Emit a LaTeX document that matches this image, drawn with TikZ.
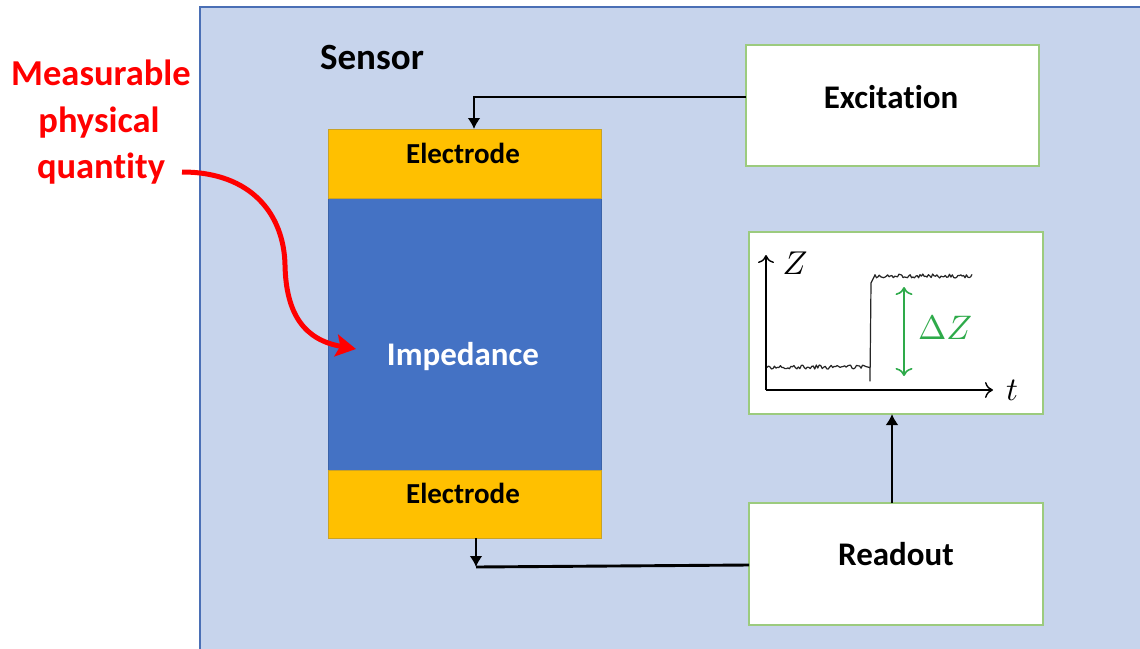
\documentclass[tikz,border=0pt]{standalone}
\usepackage{fontspec}
\setmainfont{Carlito}[Ligatures=NoCommon]
\usetikzlibrary{arrows.meta}
\definecolor{sensorfill}{HTML}{C7D4EC}
\definecolor{sensorline}{HTML}{4A6FB5}
\definecolor{elecfill}{HTML}{FFC000}
\definecolor{elecline}{HTML}{C9A227}
\definecolor{impfill}{HTML}{4472C4}
\definecolor{impline}{HTML}{3A62A8}
\definecolor{boxline}{HTML}{9CCB7E}
\definecolor{deltagreen}{HTML}{2EAA4A}
\definecolor{qred}{HTML}{FF0000}
\begin{document}
\begin{tikzpicture}[x=1pt,y=-1pt,
  plainbox/.style={rectangle,inner sep=0pt,outer sep=0pt,anchor=north west},
  greenbox/.style={plainbox,draw=boxline,line width=1.5pt,fill=white},
  elecbox/.style={plainbox,draw=elecline,line width=1pt,fill=elecfill},
  boxlabel/.style={font=\fontsize{33}{39}\selectfont\bfseries,anchor=base,inner sep=0pt},
  eleclabel/.style={font=\fontsize{29}{34}\selectfont\bfseries,anchor=base,inner sep=0pt},
  redlabel/.style={font=\fontsize{36.5}{47}\selectfont\bfseries,text=qred,anchor=base,inner sep=0pt},
  mathlabel/.style={inner sep=0pt,font=\fontsize{10}{12}\selectfont},
  conn/.style={line width=2.9pt,draw=black},
  connhead/.style={-{Latex[length=11pt,width=13pt]}},
  axis/.style={line width=1.4pt,-{To[length=8pt,width=16pt,line width=1.4pt]}},
  noisy/.style={line width=1.2pt,draw=black!85,line join=round}
]
\useasboundingbox (0,0) rectangle (1140,648);
\clip (0,0) rectangle (1140,648);
\fill[white] (0,0) rectangle (1140,648);

% sensor background
\node[plainbox,draw=sensorline,line width=1.5pt,fill=sensorfill,minimum width=1000pt,minimum height=700pt] (sensor) at (200,7) {};
\node[font=\fontsize{37}{42}\selectfont\bfseries,anchor=base,inner sep=0pt] (sensorlabel) at (372,69) {Sensor};

% electrodes and impedance
\node[plainbox,draw=impline,line width=1pt,fill=impfill,minimum width=273pt,minimum height=272pt] (imp) at (328,198) {};
\node[elecbox,minimum width=273pt,minimum height=69pt] (elecTop) at (328,129) {};
\node[elecbox,minimum width=273pt,minimum height=68pt] (elecBot) at (328,470) {};
\node[eleclabel] (elecTopLabel) at (463,163) {Electrode};
\node[eleclabel] (elecBotLabel) at (463,503) {Electrode};
\node[boxlabel,text=white] (impLabel) at (463,365) {Impedance};

% right boxes
\node[greenbox,minimum width=293pt,minimum height=121pt] (exc) at (746,45) {};
\node[boxlabel] (excLabel) at (891,108) {Excitation};
\node[greenbox,minimum width=294pt,minimum height=182pt] (plotbox) at (749,232) {};
\node[greenbox,minimum width=294pt,minimum height=122pt] (readout) at (749,503) {};
\node[boxlabel] (readLabel) at (896,565) {Readout};

% plot
\coordinate (origin) at (766,390);
\draw[axis] (origin) -- (766,255);
\draw[axis] (origin) -- (993,390);
\node[mathlabel,scale=3.3] (zlabel) at (795,263) {$Z$};
\node[mathlabel,scale=3.3] (tlabel) at (1012,390) {$t$};
\pgfmathsetseed{7}
\draw[noisy] plot[domain=767:870,samples=70] (\x,{367+2*rand}) -- (870,381) -- (871,283) -- (874,277)
  -- plot[domain=875:972,samples=70] (\x,{276+2*rand});
\node[mathlabel,scale=3.4,text=deltagreen] (dz) at (945,328) {$\Delta Z$};
\draw[deltagreen,line width=1.6pt,{To[length=8pt,width=17pt,line width=1.6pt]}-{To[length=8pt,width=17pt,line width=1.6pt]}] (904,287) -- (904,376);

% connectors
\draw[conn,connhead] ([yshift=8.5pt]exc.west) -| ([xshift=9.5pt]elecTop.north);
\coordinate (botCorner) at (476,567);
\draw[conn,connhead] ([xshift=11.5pt]elecBot.south) -- (botCorner);
\draw[conn] (botCorner) -- ([yshift=-1pt]readout.west);
\draw[conn,connhead] ([xshift=-4pt]readout.north) -- ([xshift=-4pt]plotbox.south);

% measurable quantity
\node[redlabel] (q1) at (101,85) {Measurable};
\node[redlabel] (q2) at (99,132) {physical};
\node[redlabel] (q3) at (101,178) {quantity};
\draw[qred,line width=5pt,-{Stealth[length=20pt,width=22pt,inset=4pt]}]
  (182,172) .. controls (252,172) and (284,215) .. (285,265)
  .. controls (286,315) and (305,340) .. (356,349);
\end{tikzpicture}
\end{document}
